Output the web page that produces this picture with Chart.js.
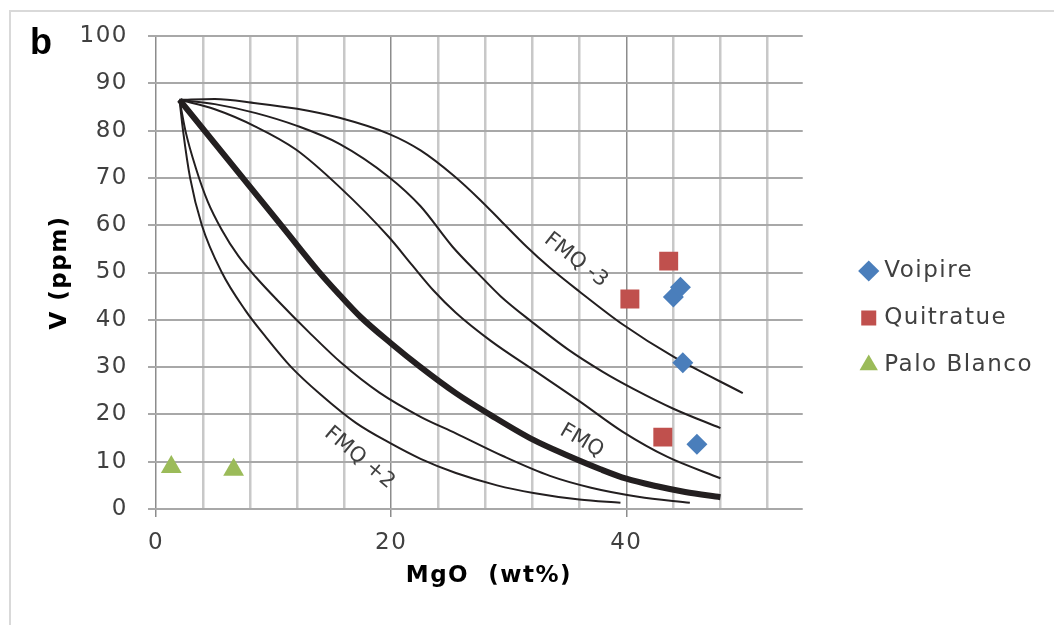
<!DOCTYPE html>
<html>
<head>
<meta charset="utf-8">
<script src="https://cdn.jsdelivr.net/npm/chart.js@4"></script>
<style>
html, body { margin: 0; padding: 0; background: #fff; }
#wrap { position: relative; width: 1054px; height: 625px; overflow: hidden; }
#frame { position: absolute; left: 9px; top: 10px; width: 1100px; height: 700px;
  border-left: 2px solid #d9d9d9; border-top: 2px solid #d9d9d9; }
#chart { position: absolute; left: 0; top: 0; }
#panel { position: absolute; left: 30px; top: 24px; font: bold 36px "Liberation Sans", Arial, sans-serif;
  line-height: 36px; color: #000; }
</style>
</head>
<body>
<div id="wrap">
  <div id="frame"></div>
  <canvas id="chart" width="1054" height="625"></canvas>
  <div id="panel">b</div>
</div>
<script>
// samples: [MgO wt%, V ppm]
var voipire = [[44.0, 44.8], [44.6, 46.9], [44.8, 30.9], [46.0, 13.7]];
var quitratue = [[40.3, 44.4], [43.6, 52.4], [43.1, 15.2]];
var paloBlanco = [[1.3, 8.9], [6.6, 8.3]];

// model curves, top to bottom
var fmqMinus3 = [[2, 86.5], [5, 86.7], [8.5, 85.8], [12, 84.6], [15.6, 82.7], [19.8, 79.3], [22.5, 75.8],
  [25.3, 70.5], [27.5, 65.5], [29.3, 61], [31.5, 55.5], [33.5, 51], [36, 46], [39.7, 39], [44, 32.2], [49.9, 24.5]];
var curveB = [[2, 86.5], [5, 85.6], [8.5, 83.7], [12, 81], [15.6, 77.2], [19.8, 70.2], [22.5, 64],
  [25.2, 55.5], [27.5, 49.5], [29.3, 45], [32, 39.5], [35, 33.8], [38, 29], [40.6, 25.4], [44, 21.2], [48, 17.1]];
var curveC = [[2, 86.5], [5, 84.5], [8.5, 80.8], [11.9, 76], [15.6, 68.1], [19.8, 57.5], [21.8, 51.5],
  [23.6, 46.2], [25.5, 41.5], [28.5, 35.5], [32.1, 29.4], [36, 22.8], [39.7, 16.3], [43.5, 11], [48, 6.5]];
var fmq = [[2, 86.5], [5, 77.3], [8, 68.1], [11, 58.9], [13.8, 50.3], [15.6, 45.3], [17.4, 40.6], [20, 35],
  [22.5, 30], [25.5, 24.5], [28.5, 19.8], [32.1, 14.6], [35, 11.3], [37.8, 8.4], [40, 6.4],
  [42.6, 4.8], [45, 3.6], [48, 2.5]];
var curveE = [[2, 86.5], [2.5, 80], [3.4, 72], [4.4, 65], [5.6, 59], [7, 53.5], [8.5, 49], [10.3, 44.2],
  [13, 37.4], [15.8, 30.8], [19, 24.6], [22.5, 19.5], [25.5, 16], [29.5, 11.2], [33.5, 7], [37, 4.5],
  [41, 2.6], [45.4, 1.3]];
var fmqPlus2 = [[2, 86.5], [2.3, 80], [2.9, 70], [3.9, 60], [5.6, 50], [7.6, 42], [9.3, 36.5], [11.5, 30],
  [14, 24.2], [17, 18.2], [20, 13.8], [22.5, 10.6], [25.5, 7.6], [29, 5], [32.1, 3.4], [36, 2], [39.5, 1.3]];

var curveLabels = [
  { text: 'FMQ -3', x: 35.7, y: 52.6, angle: 38 },
  { text: 'FMQ', x: 36.2, y: 14.4, angle: 30 },
  { text: 'FMQ +2', x: 17.3, y: 10.8, angle: 40 }
];

var xMin = 0, xMax = 55, xStep = 4, xLabelEvery = 20;
var yMin = 0, yMax = 100, yStep = 10;

var toXY = (arr) => arr.map((p) => ({ x: p[0], y: p[1] }));

var sampleSet = (label, arr, color, style, radius) => ({
  label: label,
  data: toXY(arr),
  backgroundColor: color,
  borderColor: color,
  pointStyle: style,
  pointRadius: radius,
  pointHoverRadius: radius,
  borderWidth: 0
});

var curveSet = (arr, width) => ({
  label: '',
  data: toXY(arr),
  showLine: true,
  pointRadius: 0,
  borderColor: '#231f20',
  borderWidth: width,
  cubicInterpolationMode: 'monotone'
});

var isMajor = (ctx) => ctx.tick && ctx.tick.value % xLabelEvery === 0;

// the original text is set a little loose
var spacingPlugin = {
  id: 'spacing',
  beforeUpdate: (chart) => { chart.ctx.letterSpacing = '1.5px'; },
  beforeDraw: (chart) => { chart.ctx.letterSpacing = '1.5px'; }
};

var curveLabelPlugin = {
  id: 'curveLabels',
  afterDatasetsDraw: (chart) => {
    var ctx = chart.ctx;
    var xs = chart.scales.x, ys = chart.scales.y;
    ctx.save();
    ctx.letterSpacing = '0px';
    ctx.font = '21px "DejaVu Sans"';
    ctx.fillStyle = '#404040';
    ctx.textAlign = 'center';
    ctx.textBaseline = 'middle';
    curveLabels.forEach((l) => {
      ctx.save();
      ctx.translate(xs.getPixelForValue(l.x), ys.getPixelForValue(l.y));
      ctx.rotate(l.angle * Math.PI / 180);
      ctx.fillText(l.text, 0, 0);
      ctx.restore();
    });
    ctx.restore();
  }
};

new Chart(document.getElementById('chart'), {
  type: 'scatter',
  data: {
    datasets: [
      sampleSet('Voipire', voipire, '#4a7ebb', 'rectRot', 10.5),
      sampleSet('Quitratue', quitratue, '#c0504d', 'rect', 13.4),
      sampleSet('Palo Blanco', paloBlanco, '#9bbb59', 'triangle', 12),
      curveSet(fmqMinus3, 2),
      curveSet(curveB, 2),
      curveSet(curveC, 2),
      curveSet(fmq, 6),
      curveSet(curveE, 2),
      curveSet(fmqPlus2, 2)
    ]
  },
  plugins: [spacingPlugin, curveLabelPlugin],
  options: {
    responsive: false,
    animation: false,
    devicePixelRatio: 1,
    layout: { padding: { left: 0, right: 11, top: 36, bottom: 0 } },
    plugins: {
      tooltip: { enabled: false },
      legend: {
        position: 'right',
        align: 'start',
        maxWidth: 300,
        title: { display: true, text: ' ', font: { size: 10 }, padding: { top: 0, bottom: 187.5 } },
        labels: {
          usePointStyle: true,
          boxWidth: 8,
          boxHeight: 15,
          padding: 24,
          color: '#404040',
          font: { family: 'DejaVu Sans', size: 23 },
          filter: (item) => item.datasetIndex < 3
        }
      }
    },
    scales: {
      x: {
        type: 'linear',
        min: xMin,
        max: xMax,
        border: { display: false },
        grid: {
          color: (ctx) => isMajor(ctx) ? '#8c8c8c' : '#c8c8c8',
          lineWidth: (ctx) => isMajor(ctx) ? 1.5 : 2.5,
          tickLength: 8,
          tickColor: (ctx) => isMajor(ctx) ? '#8c8c8c' : 'rgba(0,0,0,0)'
        },
        ticks: {
          stepSize: xStep,
          includeBounds: false,
          autoSkip: false,
          maxRotation: 0,
          padding: 12,
          color: '#404040',
          font: { family: 'DejaVu Sans', size: 23 },
          callback: (value) => value % xLabelEvery === 0 ? value : ''
        },
        title: {
          display: true,
          text: '  MgO  (wt%)',
          color: '#000',
          font: { family: 'DejaVu Sans', size: 23, weight: 'bold' },
          padding: { top: 0, bottom: 35 }
        },
        afterFit: (s) => { s.height = 116; }
      },
      y: {
        type: 'linear',
        min: yMin,
        max: yMax,
        border: { display: false },
        grid: { color: '#a8a8a8', lineWidth: 2, tickLength: 8, tickColor: '#a8a8a8' },
        ticks: {
          stepSize: yStep,
          padding: 20,
          color: '#404040',
          font: { family: 'DejaVu Sans', size: 23 }
        },
        title: {
          display: true,
          text: 'V (ppm)',
          color: '#000',
          font: { family: 'DejaVu Sans', size: 23, weight: 'bold' },
          padding: { top: 46, bottom: 0 }
        },
        afterFit: (s) => { s.width = 156; }
      },
      gap: {
        type: 'linear',
        position: 'right',
        display: true,
        grid: { display: false },
        border: { display: false },
        ticks: { display: false },
        afterFit: (s) => { s.width = 38; }
      }
    }
  }
});
</script>
</body>
</html>
